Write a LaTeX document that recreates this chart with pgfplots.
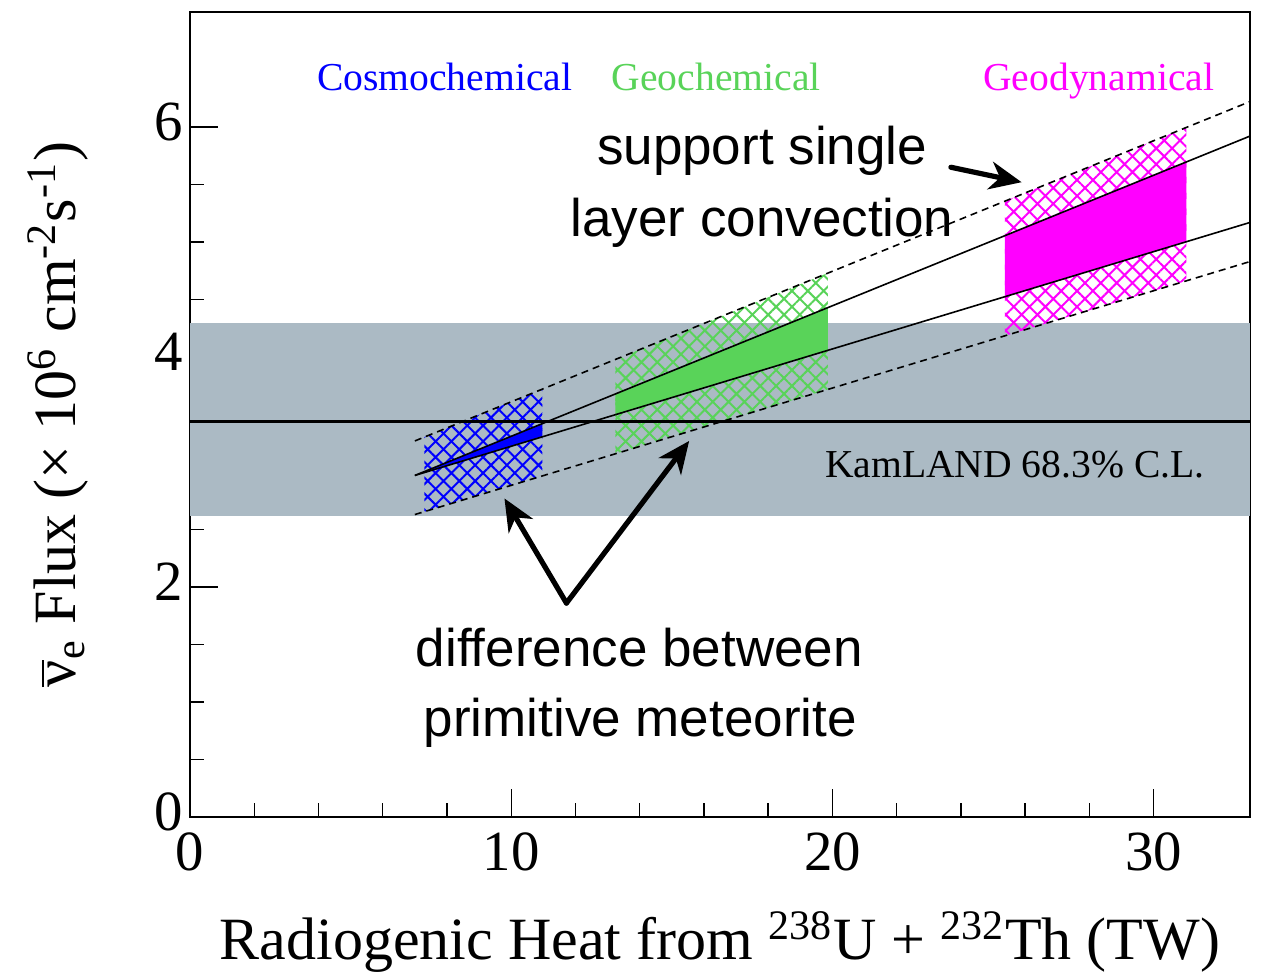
\documentclass[border=0pt]{standalone}
\usepackage{fontspec}
\setmainfont{Liberation Serif}
\newfontfamily\arial{Liberation Sans}
\usepackage{pgfplots}
\pgfplotsset{compat=1.18}
\usetikzlibrary{patterns.meta,arrows.meta}

\definecolor{bandgray}{RGB}{171,186,196}
\definecolor{geogreen}{RGB}{89,211,89}
\definecolor{geomag}{RGB}{255,0,255}
\definecolor{cosmoblue}{RGB}{0,0,255}

\begin{document}
\begin{tikzpicture}
\begin{axis}[
  scale only axis, width=265pt, height=201.25pt,
  xmin=0, xmax=33, ymin=0, ymax=7,
  xtick={0,10,20,30}, ytick={0,2,4,6},
  minor x tick num=4, minor y tick num=3,
  tick align=inside, xtick pos=bottom, ytick pos=left,
  major tick length=7pt, minor tick length=3.5pt,
  axis line style={line width=0.5pt},
  tick style={line width=0.35pt, black},
  /pgf/number format/assume math mode=true,
  ticklabel style={font=\fontsize{14.2}{17}\selectfont},
  yticklabel style={inner xsep=1.5pt, yshift=1.2pt},
  xticklabel style={inner ysep=3.8pt},
  label style={font=\fontsize{15}{18}\selectfont},
  xlabel={Radiogenic Heat from \textsuperscript{238}U + \textsuperscript{232}Th (TW)},
  xlabel style={at={(axis description cs:0.5,0)}, anchor=base, yshift=-35.75pt},
  ylabel={$\overline{\mbox{ν}}$\textsubscript{e} Flux (× 10\textsuperscript{6} cm\textsuperscript{-2}s\textsuperscript{-1})},
  ylabel style={at={(axis description cs:-0.1245,0.5)}, anchor=center},
]

% KamLAND band
\addplot[draw=none, fill=bandgray] coordinates {(0,2.62) (33,2.62) (33,4.30) (0,4.30)};

% hatched ranges (between dashed lines)
\addplot[draw=none, pattern={Hatch[angle=45,distance=2.8pt,line width=0.5pt]}, pattern color=cosmoblue]
  coordinates {(7.30,3.304) (10.97,3.721) (10.97,2.966) (7.30,2.655)};
\addplot[draw=none, pattern={Hatch[angle=45,distance=2.8pt,line width=0.5pt]}, pattern color=geogreen]
  coordinates {(13.24,3.978) (19.86,4.730) (19.86,3.718) (13.24,3.158)};
\addplot[draw=none, pattern={Hatch[angle=45,distance=2.8pt,line width=0.5pt]}, pattern color=geomag]
  coordinates {(25.37,5.355) (31.02,5.996) (31.02,4.662) (25.37,4.184)};

% solid ranges (between solid lines)
\addplot[draw=none, fill=cosmoblue] coordinates {(7.30,3.004) (10.97,3.421) (10.97,3.306) (7.30,2.995)};
\addplot[draw=none, fill=geogreen] coordinates {(13.24,3.678) (19.86,4.430) (19.86,4.058) (13.24,3.498)};
\addplot[draw=none, fill=geomag] coordinates {(25.37,5.055) (31.02,5.696) (31.02,5.002) (25.37,4.524)};

% model lines
\addplot[black, line width=0.4pt, dash pattern=on 1.75pt off 1.25pt] coordinates {(7,3.27) (33,6.221)};
\addplot[black, line width=0.4pt] coordinates {(7,2.97) (33,5.921)};
\addplot[black, line width=0.4pt] coordinates {(7,2.97) (33,5.170)};
\addplot[black, line width=0.4pt, dash pattern=on 1.75pt off 1.25pt] coordinates {(7,2.63) (33,4.830)};

% KamLAND central value
\addplot[black, line width=0.85pt] coordinates {(0,3.44) (33,3.44)};

% labels
\node[anchor=base, text=cosmoblue, font=\fontsize{9.9}{12}\selectfont] at (axis cs:7.93,6.32) {Cosmochemical};
\node[anchor=base, text=geogreen, font=\fontsize{9.9}{12}\selectfont] at (axis cs:16.38,6.32) {Geochemical};
\node[anchor=base, text=geomag, font=\fontsize{9.9}{12}\selectfont] at (axis cs:28.29,6.32) {Geodynamical};
\node[anchor=base, font=\fontsize{9.9}{12}\selectfont] at (axis cs:25.68,2.95) {KamLAND 68.3\% C.L.};

\node[anchor=base, font=\arial\fontsize{13.25}{16}\selectfont] at (axis cs:17.81,5.67) {support single};
\node[anchor=base, font=\arial\fontsize{13.25}{16}\selectfont] at (axis cs:17.81,5.05) {layer convection};
\node[anchor=base, font=\arial\fontsize{13.25}{16}\selectfont] at (axis cs:13.99,1.31) {difference between};
\node[anchor=base, font=\arial\fontsize{13.25}{16}\selectfont] at (axis cs:14.02,0.70) {primitive meteorite};

% arrows
\draw[line width=1.3pt, line cap=round, -{Stealth[length=8pt,width=7pt,inset=2.5pt]}] (axis cs:23.69,5.65) -- (axis cs:25.89,5.52);
\draw[line width=1.3pt, line cap=round, -{Stealth[length=8pt,width=7pt,inset=2.5pt]}] (axis cs:11.72,1.86) -- (axis cs:9.79,2.77);
\draw[line width=1.3pt, line cap=round, -{Stealth[length=8pt,width=7pt,inset=2.5pt]}] (axis cs:11.72,1.86) -- (axis cs:15.54,3.27);
\end{axis}
\pgfresetboundingbox
\path[use as bounding box] (-47.5pt,-38.75pt) rectangle (269.5pt,204.25pt);
\end{tikzpicture}
\end{document}
